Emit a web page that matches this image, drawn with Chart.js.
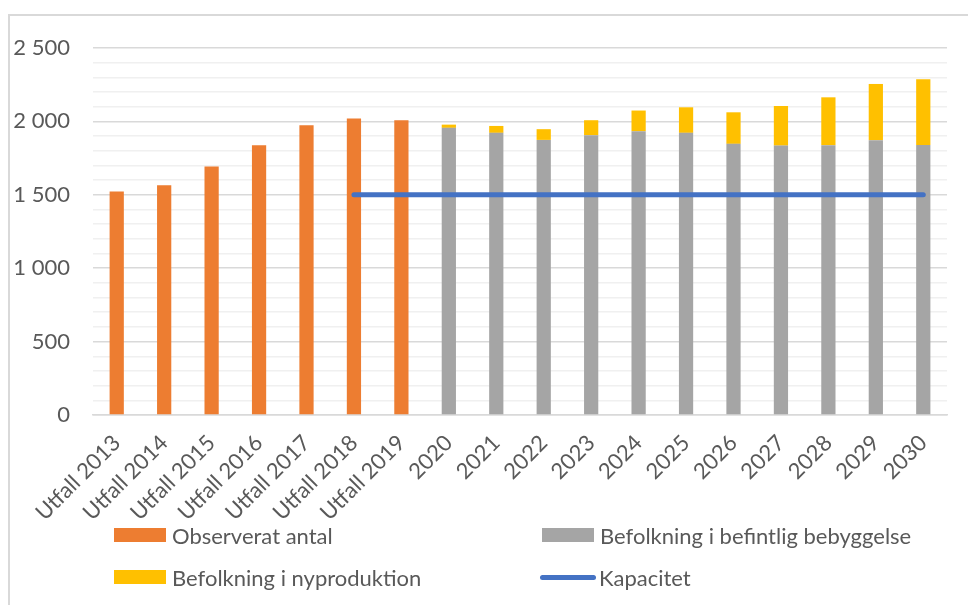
<!DOCTYPE html>
<html lang="sv">
<head>
<meta charset="utf-8">
<title>Antal och kapacitet</title>
<script src="https://cdn.jsdelivr.net/npm/chart.js@4"></script>
<style>
  html, body { margin: 0; padding: 0; background: #fff; }
  #wrap { position: relative; width: 968px; height: 605px; overflow: hidden; }
  #frame {
    position: absolute; left: 8px; top: 14px; width: 980px; height: 620px;
    border: 2px solid #d9d9d9; box-sizing: border-box;
  }
  #chart { position: absolute; left: 0; top: 0; }
  .legend-item {
    position: absolute; display: flex; align-items: center;
    font-family: Lato, "Noto Sans", sans-serif; font-size: 22px; color: #595959;
    white-space: nowrap;
  }
  .legend-item .swatch { width: 52px; height: 14px; margin-right: 6px; }
  .legend-item .line { width: 56px; height: 5px; border-radius: 3px; margin-right: 3px; }
</style>
</head>
<body>
<div id="wrap">
  <div id="frame"></div>
  <canvas id="chart" width="968" height="605"></canvas>
  <div id="legend"></div>
</div>
<script>
const categories = [
  "Utfall 2013", "Utfall 2014", "Utfall 2015", "Utfall 2016", "Utfall 2017",
  "Utfall 2018", "Utfall 2019", "2020", "2021", "2022", "2023", "2024",
  "2025", "2026", "2027", "2028", "2029", "2030"
];
const observerat = [1522, 1565, 1693, 1838, 1974, 2019, 2008,
  null, null, null, null, null, null, null, null, null, null, null];
const befintlig = [null, null, null, null, null, null, null,
  1956, 1922, 1874, 1906, 1933, 1922, 1847, 1835, 1838, 1872, 1840];
const nyproduktion = [null, null, null, null, null, null, null,
  22, 47, 73, 102, 141, 174, 215, 270, 326, 383, 447];
const kapacitet = [null, null, null, null, null, 1500, 1500,
  1500, 1500, 1500, 1500, 1500, 1500, 1500, 1500, 1500, 1500, 1500];
const yTicks = [0, 500, 1000, 1500, 2000, 2500];

const textColor = "#595959";
const fontFamily = "Lato, 'Noto Sans', sans-serif";

function formatNumber(v) {
  return String(v).replace(/\B(?=(\d{3})+(?!\d))/g, " ");
}

const barOpts = { barPercentage: 0.6, categoryPercentage: 0.5, stack: "s" };

const chart = new Chart(document.getElementById("chart"), {
  data: {
    labels: categories,
    datasets: [
      { type: "line", label: "Kapacitet", data: kapacitet, borderColor: "#4472c4",
        backgroundColor: "#4472c4", borderWidth: 5, borderCapStyle: "round",
        pointRadius: 0, spanGaps: false, order: 0 },
      { type: "bar", label: "Observerat antal", data: observerat,
        backgroundColor: "#ed7d31", order: 1, ...barOpts },
      { type: "bar", label: "Befolkning i befintlig bebyggelse", data: befintlig,
        backgroundColor: "#a5a5a5", order: 1, ...barOpts },
      { type: "bar", label: "Befolkning i nyproduktion", data: nyproduktion,
        backgroundColor: "#ffc000", order: 1, ...barOpts }
    ]
  },
  options: {
    responsive: false,
    animation: false,
    layout: { padding: { left: 0, right: 21, top: 48, bottom: 0 } },
    plugins: { legend: { display: false }, tooltip: { enabled: false } },
    scales: {
      x: {
        stacked: true,
        grid: { display: false, drawTicks: false },
        border: { color: "#d9d9d9", width: 1.5 },
        ticks: {
          color: textColor, font: { family: fontFamily, size: 22 },
          minRotation: 45, maxRotation: 45, autoSkip: false, padding: 15
        },
        afterFit: (scale) => { scale.height = 190; }
      },
      y: {
        stacked: true,
        min: 0, max: 2500,
        grid: {
          drawTicks: false,
          color: (ctx) => (yTicks.includes(ctx.tick.value) ? "#d9d9d9" : "#f0f0f0"),
          lineWidth: 1.5
        },
        border: { display: false },
        ticks: {
          stepSize: 100, autoSkip: false,
          color: textColor, font: { family: fontFamily, size: 22 },
          padding: 23,
          callback: (v) => (yTicks.includes(v) ? formatNumber(v) : "")
        },
        afterFit: (scale) => { scale.width = 93; }
      }
    }
  }
});

// legend laid out in two columns under the axis labels
const legendSpots = {
  "Observerat antal": [114, 535],
  "Befolkning i befintlig bebyggelse": [542, 535],
  "Befolkning i nyproduktion": [114, 577],
  "Kapacitet": [540, 577]
};
const legend = document.getElementById("legend");
chart.data.datasets.forEach((ds) => {
  const [x, y] = legendSpots[ds.label];
  const item = document.createElement("div");
  item.className = "legend-item";
  item.style.left = x + "px";
  item.style.top = (y - 14) + "px";
  item.style.height = "28px";
  const mark = document.createElement("span");
  mark.className = ds.type === "line" ? "line" : "swatch";
  mark.style.background = ds.backgroundColor;
  const text = document.createElement("span");
  text.textContent = ds.label;
  item.appendChild(mark);
  item.appendChild(text);
  legend.appendChild(item);
});
</script>
</body>
</html>
